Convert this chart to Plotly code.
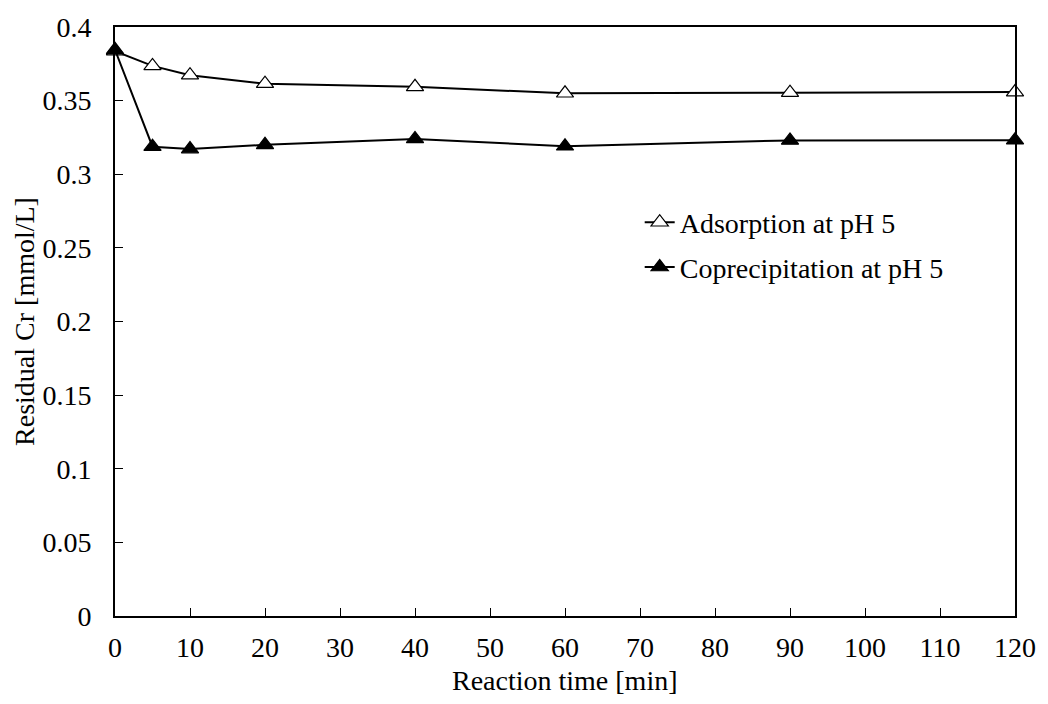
import plotly.graph_objects as go

time_min = [0, 5, 10, 20, 40, 60, 90, 120]
adsorption = [0.3836, 0.3736, 0.3673, 0.3615, 0.3594, 0.3550, 0.3554, 0.3558]
coprecipitation = [0.3845, 0.3187, 0.3171, 0.3200, 0.3240, 0.3190, 0.3230, 0.3231]

x_ticks = list(range(0, 121, 10))
y_ticks = [0, 0.05, 0.1, 0.15, 0.2, 0.25, 0.3, 0.35, 0.4]

x_title = "Reaction time [min]"
y_title = "Residual Cr [mmol/L]"

FONT = "Times New Roman, Liberation Serif, Tinos, DejaVu Serif, serif"

fig = go.Figure()
fig.add_trace(go.Scatter(
    x=time_min, y=adsorption, mode="lines+markers",
    name="Adsorption at pH 5", legend="legend", cliponaxis=False,
    line=dict(color="black", width=2),
    marker=dict(symbol="triangle-up", size=15, color="white",
                line=dict(color="black", width=1.2)),
))
fig.add_trace(go.Scatter(
    x=time_min, y=coprecipitation, mode="lines+markers",
    name="Coprecipitation at pH 5", legend="legend2", cliponaxis=False,
    line=dict(color="black", width=2),
    marker=dict(symbol="triangle-up", size=15, color="black",
                line=dict(color="black", width=1.2)),
))

axis_common = dict(
    showline=True, linecolor="black", linewidth=2, mirror=True,
    ticks="inside", ticklen=8, tickwidth=1, tickcolor="black",
    showgrid=False, zeroline=False,
    tickfont=dict(family=FONT, size=28, color="black"),
)

fig.update_layout(
    width=1048, height=704,
    margin=dict(l=115, r=23, t=25, b=88),
    paper_bgcolor="white", plot_bgcolor="white",
    font=dict(family=FONT, size=28, color="black"),
    xaxis=dict(range=[0, 120], tickvals=x_ticks, ticklabelstandoff=5,
               **axis_common),
    yaxis=dict(range=[0, 0.4], tickvals=y_ticks, ticklabelstandoff=16,
               title=dict(text=y_title, standoff=0,
                          font=dict(family=FONT, size=28, color="black")),
               **axis_common),
    legend=dict(x=0.583, y=0.668, xanchor="left", yanchor="middle",
                bgcolor="rgba(0,0,0,0)", font=dict(family=FONT, size=28, color="black"),
                itemwidth=30),
    legend2=dict(x=0.583, y=0.592, xanchor="left", yanchor="middle",
                 bgcolor="rgba(0,0,0,0)", font=dict(family=FONT, size=28, color="black"),
                 itemwidth=30),
    showlegend=True,
    annotations=[dict(text=x_title, xref="paper", yref="paper", x=0.5, y=-0.11,
                      xanchor="center", yanchor="middle", showarrow=False,
                      font=dict(family=FONT, size=28, color="black"))],
)

fig.write_html("out.html")
